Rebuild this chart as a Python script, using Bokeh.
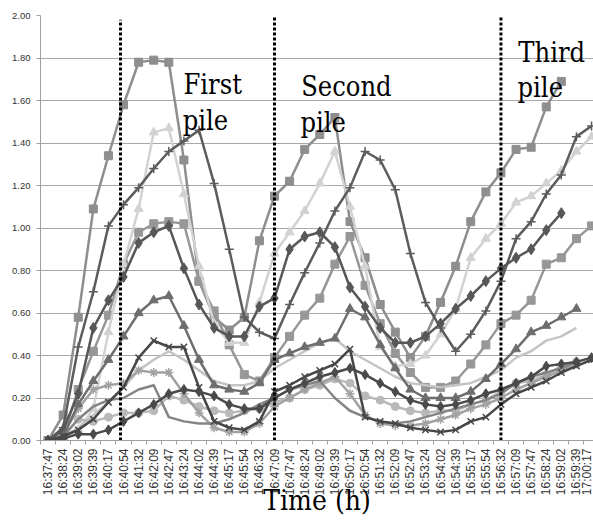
import math
from bokeh.plotting import figure
from bokeh.models import Range1d, FixedTicker, ColumnDataSource, Label
from bokeh.embed import file_html
from bokeh.resources import INLINE

times = ["16:37:47", "16:38:24", "16:39:02", "16:39:39", "16:40:17", "16:40:54",
         "16:41:32", "16:42:09", "16:42:47", "16:43:24", "16:44:02", "16:44:39",
         "16:45:17", "16:45:54", "16:46:32", "16:47:09", "16:47:47", "16:48:24",
         "16:49:02", "16:49:39", "16:50:17", "16:50:54", "16:51:32", "16:52:09",
         "16:52:47", "16:53:24", "16:54:02", "16:54:39", "16:55:17", "16:55:54",
         "16:56:32", "16:57:09", "16:57:47", "16:58:24", "16:59:02", "16:59:39",
         "17:00:17"]

y_ticks = [0.0, 0.2, 0.4, 0.6, 0.8, 1.0, 1.2, 1.4, 1.6, 1.8, 2.0]
y_tick_labels = ["0.00", "0.20", "0.40", "0.60", "0.80", "1.00", "1.20", "1.40", "1.60", "1.80", "2.00"]

sq_a = [0.00, 0.12, 0.58, 1.09, 1.34, 1.58, 1.78, 1.79, 1.78, 1.32, 0.75, 0.58, 0.52, 0.58,
        0.94, 1.15, 1.22, 1.37, 1.44, 1.52, 1.03, 0.86, 0.64, 0.51, 0.39, 0.49, 0.65, 0.82,
        1.03, 1.17, 1.26, 1.37, 1.38, 1.57, 1.69]
sq_b = [0.00, 0.02, 0.24, 0.42, 0.59, 0.83, 0.98, 1.02, 1.03, 1.02, 0.75, 0.61, 0.45, 0.31,
        0.28, 0.39, 0.49, 0.59, 0.67, 0.83, 0.96, 0.73, 0.55, 0.41, 0.32, 0.25, 0.25, 0.28,
        0.36, 0.45, 0.55, 0.59, 0.66, 0.83, 0.86, 0.95, 1.01]
tri_light = [0.00, 0.00, 0.05, 0.15, 0.51, 0.83, 1.09, 1.45, 1.47, 1.16, 0.82, 0.55, 0.46, 0.46,
             0.65, 0.88, 0.98, 1.08, 1.21, 1.36, 1.10, 0.82, 0.44, 0.35, 0.36, 0.40, 0.50, 0.62,
             0.86, 0.95, 1.02, 1.12, 1.15, 1.21, 1.27, 1.36, 1.43]
line_light = [0.00, 0.02, 0.06, 0.12, 0.18, 0.25, 0.33, 0.38, 0.42, 0.38, 0.33, 0.28, 0.26, 0.26,
              0.28, 0.34, 0.38, 0.42, 0.46, 0.48, 0.42, 0.38, 0.34, 0.30, 0.27, 0.26, 0.25, 0.26,
              0.27, 0.30, 0.33, 0.39, 0.42, 0.47, 0.49, 0.53]
circ = [0.00, 0.02, 0.10, 0.09, 0.11, 0.13, 0.13, 0.14, 0.21, 0.19, 0.16, 0.14, 0.13, 0.14,
        0.15, 0.18, 0.20, 0.24, 0.26, 0.29, 0.27, 0.21, 0.19, 0.16, 0.14, 0.13, 0.14, 0.14,
        0.17, 0.19, 0.23, 0.27, 0.28, 0.31, 0.35, 0.37]
aster = [0.00, 0.03, 0.15, 0.24, 0.26, 0.27, 0.33, 0.32, 0.32, 0.22, 0.13, 0.06, 0.04, 0.04,
         0.08, 0.16, 0.20, 0.24, 0.27, 0.30, 0.22, 0.12, 0.08, 0.07, 0.07, 0.08, 0.10, 0.12,
         0.15, 0.17, 0.20, 0.24, 0.27, 0.30, 0.33, 0.36]
line_mid = [0.00, 0.02, 0.10, 0.16, 0.19, 0.20, 0.24, 0.26, 0.11, 0.09, 0.08, 0.08, 0.10, 0.13,
            0.17, 0.20, 0.24, 0.26, 0.28, 0.20, 0.14, 0.11, 0.09, 0.08, 0.09, 0.11, 0.13, 0.15,
            0.17, 0.19, 0.22, 0.27, 0.30, 0.32, 0.34, 0.37]
plus = [0.00, 0.06, 0.44, 0.70, 1.01, 1.11, 1.19, 1.28, 1.36, 1.41, 1.46, 1.21, 0.90, 0.58,
        0.51, 0.48, 0.64, 0.79, 0.93, 1.08, 1.19, 1.36, 1.32, 1.18, 0.88, 0.65, 0.53, 0.42,
        0.50, 0.61, 0.75, 0.95, 1.03, 1.16, 1.25, 1.43, 1.48]
dia_a = [0.00, 0.05, 0.22, 0.53, 0.66, 0.77, 0.93, 0.98, 1.01, 0.81, 0.64, 0.53, 0.49, 0.49,
         0.63, 0.67, 0.90, 0.96, 0.98, 0.91, 0.72, 0.63, 0.53, 0.46, 0.46, 0.49, 0.55, 0.62,
         0.68, 0.75, 0.81, 0.86, 0.90, 0.99, 1.07]
tri_dark = [0.00, 0.02, 0.17, 0.28, 0.38, 0.49, 0.60, 0.66, 0.68, 0.54, 0.38, 0.26, 0.24, 0.23,
            0.27, 0.38, 0.41, 0.44, 0.46, 0.48, 0.62, 0.58, 0.45, 0.34, 0.24, 0.20, 0.20, 0.20,
            0.23, 0.29, 0.36, 0.43, 0.51, 0.54, 0.58, 0.62]
x_dark = [0.00, 0.02, 0.05, 0.10, 0.18, 0.25, 0.39, 0.47, 0.44, 0.44, 0.25, 0.09, 0.06, 0.05,
          0.09, 0.23, 0.26, 0.30, 0.33, 0.36, 0.43, 0.11, 0.09, 0.08, 0.06, 0.05, 0.04, 0.05,
          0.09, 0.11, 0.17, 0.22, 0.25, 0.28, 0.32, 0.35, 0.38]
dia_b = [0.00, 0.01, 0.03, 0.03, 0.05, 0.09, 0.13, 0.17, 0.22, 0.24, 0.23, 0.21, 0.17, 0.15,
         0.15, 0.20, 0.24, 0.27, 0.30, 0.32, 0.34, 0.31, 0.27, 0.23, 0.19, 0.17, 0.16, 0.17,
         0.19, 0.22, 0.24, 0.27, 0.30, 0.35, 0.36, 0.37, 0.39]

pile_names = ["First", "Second", "Third"]
pile_index = [4.8, 15.0, 30.0]

styles = [
    (sq_a, "#8e8e8e", "square", 8),
    (sq_b, "#979797", "square", 8),
    (tri_light, "#d2d2d2", "triangle", 9),
    (line_light, "#c4c4c4", None, 0),
    (circ, "#b9b9b9", "circle", 8),
    (aster, "#a2a2a2", "asterisk", 9),
    (line_mid, "#858585", None, 0),
    (plus, "#5c5c5c", "cross", 9),
    (dia_a, "#575757", "diamond", 11),
    (tri_dark, "#6e6e6e", "triangle", 9),
    (x_dark, "#474747", "x", 9),
    (dia_b, "#4a4a4a", "diamond", 10),
]

SERIF = "DejaVu Serif Condensed"

p = figure(width=593, height=520, output_backend="svg", toolbar_location=None,
           x_range=Range1d(-0.5, 36.13), y_range=Range1d(0, 2),
           min_border_left=40, min_border_right=0, min_border_top=15, min_border_bottom=80)
p.outline_line_color = None
p.background_fill_color = "white"
p.border_fill_color = "white"

p.xgrid.visible = False
p.ygrid.ticker = FixedTicker(ticks=y_ticks)
p.ygrid.grid_line_color = "#a8a8a8"
p.ygrid.grid_line_width = 1

p.yaxis.ticker = FixedTicker(ticks=y_ticks)
p.yaxis.major_label_overrides = {t: l for t, l in zip(y_ticks, y_tick_labels)}
p.yaxis.axis_line_color = "#a0a0a0"
p.yaxis.major_tick_line_color = "#a0a0a0"
p.yaxis.major_tick_out = 4
p.yaxis.major_tick_in = 0
p.yaxis.minor_tick_line_color = None
p.yaxis.major_label_standoff = 6
p.yaxis.major_label_text_font = "Liberation Sans"
p.yaxis.major_label_text_font_size = "9.5px"
p.yaxis.major_label_text_color = "#333333"

idx = list(range(len(times)))
p.xaxis.ticker = FixedTicker(ticks=idx, minor_ticks=[i - 0.5 for i in range(len(times) + 1)])
p.xaxis.major_label_overrides = {i: t for i, t in zip(idx, times)}
p.xaxis.major_label_orientation = math.pi / 2
p.xaxis.major_label_text_font = "Liberation Sans"
p.xaxis.major_label_text_font_size = "12px"
p.xaxis.major_label_text_color = "#333333"
p.xaxis.major_tick_out = 0
p.xaxis.major_tick_in = 0
p.xaxis.minor_tick_out = 4
p.xaxis.minor_tick_in = 0
p.xaxis.minor_tick_line_color = "#a0a0a0"
p.xaxis.axis_line_color = "#a0a0a0"
p.xaxis.major_label_standoff = 4
p.xaxis.axis_label = "Time (h)"
p.xaxis.axis_label_text_font = SERIF
p.xaxis.axis_label_text_font_size = "28px"
p.xaxis.axis_label_text_font_style = "normal"
p.xaxis.axis_label_text_color = "#000000"
p.xaxis.axis_label_standoff = -14

for vals, color, marker, size in styles:
    xs = idx[:len(vals)]
    src = ColumnDataSource(dict(x=xs, y=vals))
    p.line("x", "y", source=src, line_color=color, line_width=2.5, line_join="round")
    if marker:
        if marker in ("cross", "x", "asterisk"):
            p.scatter("x", "y", source=src, marker=marker, size=size, line_color=color,
                      line_width=1.5, fill_color=None)
        else:
            p.scatter("x", "y", source=src, marker=marker, size=size, line_color=color,
                      fill_color=color)

pile_top = [1.98, 2.0, 2.0]
p.segment(x0=pile_index, y0=[0, 0, 0], x1=pile_index, y1=pile_top,
          line_color="black", line_width=3, line_dash="3 2")

label_x = [8.97, 16.77, 31.15]
label_y1 = [1.675, 1.666, 1.827]
label_y2 = [1.506, 1.496, 1.661]
for name, lx, ly1, ly2 in zip(pile_names, label_x, label_y1, label_y2):
    p.add_layout(Label(x=lx, y=ly1, text=name, text_font=SERIF,
                       text_font_size="27px", text_color="black",
                       text_baseline="alphabetic", text_align="left"))
    p.add_layout(Label(x=lx - 0.05, y=ly2, text="pile", text_font=SERIF,
                       text_font_size="27px", text_color="black",
                       text_baseline="alphabetic", text_align="left"))

open("out.html", "w").write(file_html(p, INLINE))
